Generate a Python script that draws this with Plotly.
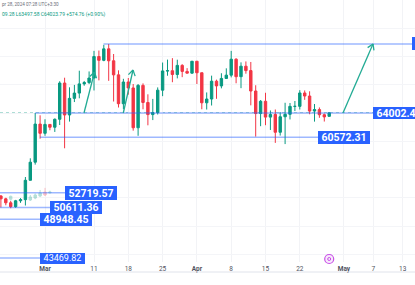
import math
import pandas as pd
import plotly.graph_objects as go

# ---------------- data ----------------
dates = pd.date_range("2024-02-20", "2024-04-28", freq="D")
opens = [51779, 52258, 51849, 51288, 50745, 51572, 51733, 54477, 57037, 62432,
         61130, 62387, 61987, 63114, 68245, 63724, 66074, 66823, 68124, 68313,
         68956, 72000, 71461, 73083, 71396, 69403, 65315, 68390, 67548, 61912,
         67913, 65491, 63778, 64062, 67234, 69958, 69987, 69455, 70744, 69892,
         69645, 71333, 69702, 65447, 65980, 68508, 67837, 68896, 69360, 71620,
         69146, 70631, 70006, 67116, 63924, 65662, 63420, 63793, 61277, 63470,
         63818, 64941, 64942, 66837, 66407, 64276, 64481, 63756, 63530]
highs = [52985, 52371, 52000, 51548, 51700, 51950, 54938, 57588, 64000, 63676,
         63115, 62433, 63231, 68499, 69000, 67637, 67980, 69990, 68541, 69887,
         72800, 72850, 73650, 73777, 72357, 70043, 68845, 68957, 68107, 68100,
         68200, 66650, 65999, 67624, 71150, 71561, 71769, 71552, 70913, 70355,
         71366, 71342, 69708, 66914, 69291, 68725, 69629, 70327, 72797, 71758,
         71172, 71305, 71227, 67932, 65840, 66867, 64365, 64499, 64117, 65450,
         65419, 65700, 67233, 67199, 67076, 65275, 64789, 63923, 64109]
lows = [50760, 50625, 50934, 50521, 50586, 51280, 50902, 54450, 56690, 60364,
        60777, 61561, 61321, 62300, 59005, 62788, 65551, 66082, 67861, 68094,
        67194, 68620, 71334, 68555, 65630, 64780, 64545, 66600, 61500, 60775,
        64529, 62260, 63000, 63790, 66385, 69280, 68359, 68904, 69076, 69601,
        69562, 68110, 64533, 64493, 65064, 66011, 67491, 68824, 69043, 68210,
        67518, 69567, 65086, 60660, 62134, 62274, 61600, 59768, 60803, 59600,
        63090, 64278, 64500, 65864, 63825, 62783, 63322, 62793, 63498]
closes = [52258, 51849, 51288, 50745, 51572, 51733, 54477, 57037, 62432, 61130,
          62387, 61987, 63114, 68245, 63724, 66074, 66823, 68124, 68313, 68956,
          72000, 71461, 73083, 71396, 69403, 65315, 68390, 67548, 61912, 67913,
          65491, 63778, 64062, 67234, 69958, 69987, 69455, 70744, 69892, 69645,
          71333, 69702, 65447, 65980, 68508, 67837, 68896, 69360, 71620, 69146,
          70631, 70006, 67116, 63924, 65662, 63420, 63793, 61277, 63470, 63818,
          64941, 64942, 66837, 66407, 64276, 64481, 63756, 63449, 64024]

# faded projected bars drawn near the consolidation
ghost_dates = ["2024-02-23", "2024-02-27", "2024-02-28", "2024-02-29", "2024-03-01", "2024-03-02"]
ghost_open = [51800, 51683, 51966, 52250, 52816, 52700]
ghost_high = [52300, 52391, 52600, 53100, 53400, 53000]
ghost_low = [51600, 51541, 51800, 52100, 52250, 52600]
ghost_close = [52200, 52108, 52391, 52674, 52391, 52800]

tick_dates = ["2024-03-01", "2024-03-11", "2024-03-18", "2024-03-25", "2024-04-01",
              "2024-04-08", "2024-04-15", "2024-04-22", "2024-05-01", "2024-05-07", "2024-05-13"]
tick_text = ["<b>Mar</b>", "11", "18", "25", "<b>Apr</b>", "8", "15", "22", "<b>May</b>", "7", "13"]

# horizontal level lines: price, label text
level_prices = [73777.00, 64002.40, 60572.31, 52719.57, 50611.36, 48948.45, 43469.82]
level_texts = ["73777.00", "64002.40", "60572.31", "52719.57", "50611.36", "48948.45", "43469.82"]

# arrows: (start date, start price, end date, end price)
arrow_start_dates = ["2024-03-08 23:00", "2024-03-16 23:30", "2024-04-30 19:30"]
arrow_start_prices = [64002.4, 64002.4, 64002.4]
arrow_end_dates = ["2024-03-11 02:30", "2024-03-18 23:00", "2024-05-06 22:30"]
arrow_end_prices = [69808, 70091, 73777]

last_price = 64023.79
event_date = "2024-04-28"

# ---------------- geometry ----------------
W, H = 415, 285
PLOT_H = 262
MAR1 = pd.Timestamp("2024-03-01")
MAR1_PX = 45.0
PX_PER_DAY = 4.9
REF_PRICE, REF_PY, PRICE_PER_PX = 64002.4, 113.0, 141.6

x_start = MAR1 - pd.Timedelta(days=MAR1_PX / PX_PER_DAY)
x_end = x_start + pd.Timedelta(days=W / PX_PER_DAY)
y_max = REF_PRICE + REF_PY * PRICE_PER_PX
y_min = y_max - PLOT_H * PRICE_PER_PX


def d2px(d):
    return MAR1_PX + (pd.Timestamp(d) - MAR1) / pd.Timedelta(days=1) * PX_PER_DAY


def px2d(px):
    return MAR1 + pd.Timedelta(days=(px - MAR1_PX) / PX_PER_DAY)


def p2py(p):
    return REF_PY - (p - REF_PRICE) / PRICE_PER_PX


def py2p(py):
    return REF_PRICE + (REF_PY - py) * PRICE_PER_PX


GREEN, RED = "#089981", "#f23645"
BLUE = "#2962ff"
LINE_BLUE = "rgba(41,98,255,0.45)"
TEAL = "#22ab94"

fig = go.Figure()

fig.add_trace(go.Candlestick(
    x=dates, open=opens, high=highs, low=lows, close=closes,
    increasing=dict(line=dict(color=GREEN, width=1), fillcolor=GREEN),
    decreasing=dict(line=dict(color=RED, width=1), fillcolor=RED),
    whiskerwidth=0, showlegend=False, hoverinfo="skip"))

fig.add_trace(go.Candlestick(
    x=pd.to_datetime(ghost_dates), open=ghost_open, high=ghost_high, low=ghost_low, close=ghost_close,
    increasing=dict(line=dict(color=GREEN, width=1), fillcolor=GREEN),
    decreasing=dict(line=dict(color=RED, width=1), fillcolor=RED),
    whiskerwidth=0, opacity=0.3, showlegend=False, hoverinfo="skip"))

shapes = []
annotations = []

# last price dotted line
shapes.append(dict(type="line", xref="paper", yref="y", x0=0, x1=1, y0=last_price, y1=last_price,
                   line=dict(color="rgba(8,153,129,0.5)", width=1, dash="dot"), layer="below"))

# level lines and labels (line from/to pixel x, label left pixel x)
line_from_px = [103.5, 35, 40, 0, 0, 0, 0]
label_px = [412, 373, 318, 65, 50, 40, 40]
label_sizes = [10.5, 10.5, 10.5, 10.5, 10.5, 10.5, 9]
label_w = [50, 50, 50, 50, 50, 50, 43]
label_h = [11, 10, 11, 12, 11, 11, 8.5]
label_bold = [True, True, True, True, True, True, False]
for p, t, x0, lx, fs, b, bw, bh in zip(level_prices, level_texts, line_from_px, label_px,
                                       label_sizes, label_bold, label_w, label_h):
    shapes.append(dict(type="line", xref="paper", yref="y", x0=x0 / W, x1=lx / W, y0=p, y1=p,
                       line=dict(color=LINE_BLUE, width=1.6)))
    annotations.append(dict(xref="paper", yref="y", x=lx / W, y=p, xanchor="left", yanchor="middle",
                            text=(f"<b>{t}</b>" if b else t), showarrow=False,
                            width=bw, height=bh, align="center", valign="middle",
                            font=dict(family="Roboto", size=fs, color="white"),
                            bgcolor=BLUE, borderpad=1, borderwidth=0))

# arrows as lines + chevron heads
for sd, sp, ed, ep in zip(arrow_start_dates, arrow_start_prices, arrow_end_dates, arrow_end_prices):
    x0, y0 = d2px(sd), p2py(sp)
    x1, y1 = d2px(ed), p2py(ep)
    shapes.append(dict(type="line", xref="x", yref="y", x0=pd.Timestamp(sd), y0=sp,
                       x1=pd.Timestamp(ed), y1=ep, line=dict(color=TEAL, width=1.3)))
    ang = math.atan2(y1 - y0, x1 - x0)
    for s in (1, -1):
        a = ang + math.pi + s * math.radians(32)
        hx, hy = x1 + 6.5 * math.cos(a), y1 + 6.5 * math.sin(a)
        shapes.append(dict(type="line", xref="x", yref="y", x0=pd.Timestamp(ed), y0=ep,
                           x1=px2d(hx), y1=py2p(hy), line=dict(color=TEAL, width=1.3)))

# bottom axis border
shapes.append(dict(type="line", xref="paper", yref="paper", x0=0, x1=1,
                   y0=-(272 - PLOT_H) / PLOT_H, y1=-(272 - PLOT_H) / PLOT_H,
                   line=dict(color="#e0e3eb", width=1)))

# event marker
fig.add_trace(go.Scatter(x=[pd.Timestamp(event_date)], y=[py2p(259)], mode="markers",
                         marker=dict(symbol="circle", size=9, color="rgba(200,80,230,0.12)",
                                     line=dict(color="#c850e6", width=1.2)),
                         showlegend=False, hoverinfo="skip", cliponaxis=False))
fig.add_trace(go.Scatter(x=[pd.Timestamp(event_date)], y=[py2p(259)], mode="markers",
                         marker=dict(symbol="circle-open", size=3, color="#c850e6",
                                     line=dict(width=1)),
                         showlegend=False, hoverinfo="skip", cliponaxis=False))

# header text
annotations.append(dict(xref="paper", yref="paper", x=0, y=1 - 5 / PLOT_H, xanchor="left", yanchor="middle",
                        text="pr 28, 2024 07:28 UTC+3:30", showarrow=False,
                        font=dict(family="Roboto", size=4.6, color="#6a6d78")))
annotations.append(dict(xref="paper", yref="paper", x=0, y=1 - 14.5 / PLOT_H, xanchor="left", yanchor="middle",
                        text="09.28 L63497.58 C64023.79 +574.76 (+0.90%)", showarrow=False,
                        font=dict(family="Roboto", size=5.0, color=GREEN)))

fig.update_layout(
    width=W, height=H, margin=dict(l=0, r=0, t=0, b=H - PLOT_H),
    paper_bgcolor="white", plot_bgcolor="white",
    shapes=shapes, annotations=annotations, showlegend=False,
    xaxis=dict(type="date", range=[x_start, x_end], rangeslider=dict(visible=False),
               tickvals=pd.to_datetime(tick_dates), ticktext=tick_text,
               tickfont=dict(family="Roboto", size=6.5, color="#50535e"),
               showgrid=True, gridcolor="#f2f3f6", gridwidth=1, zeroline=False,
               showline=False, ticks="", ticklabelstandoff=1),
    yaxis=dict(range=[y_min, y_max], showticklabels=False, showgrid=True, gridcolor="#f4f5f8",
               dtick=4000, tick0=0, zeroline=False, showline=False, ticks=""),
)

fig.write_html("out.html")
